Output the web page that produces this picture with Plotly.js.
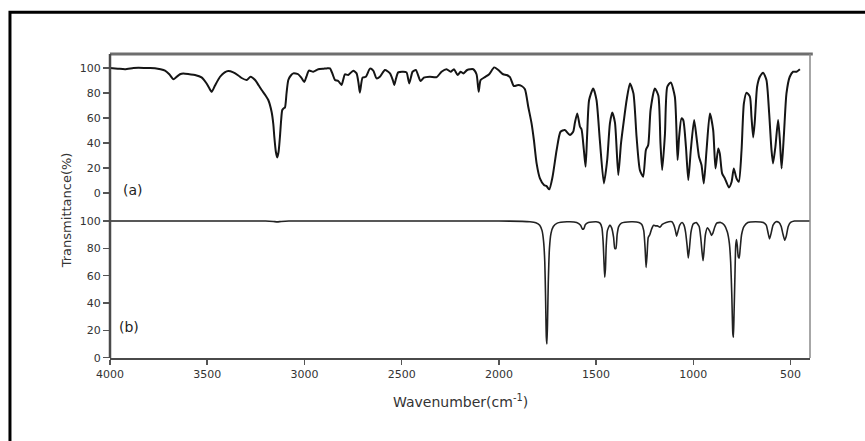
<!DOCTYPE html>
<html>
<head>
<meta charset="utf-8">
<script src="https://cdn.plot.ly/plotly-3.0.1.min.js"></script>
<style>html,body{margin:0;padding:0;background:#fff;}#chart{width:865px;height:441px;}</style>
</head>
<body>
<div id="chart"></div>
<script>
// Spectrum (a): wavenumber (cm-1) and transmittance (%)
const waveA = [4000,3960,3923,3880,3854,3800,3769,3740,3717,3695,3674,3657,3640,3623,3590,3563,3529,3505,3490,3477,3460,3434,3410,3392,3366,3340,3323,3297,3277,3254,3235,3220,3200,3186,3169,3160,3155,3147,3140,3133,3126,3120,3114,3105,3100,3092,3083,3070,3057,3032,3015,3001,2990,2977,2955,2929,2900,2886,2869,2855,2843,2826,2809,2800,2792,2775,2749,2732,2722,2715,2701,2684,2663,2646,2629,2612,2586,2560,2545,2538,2530,2518,2492,2475,2461,2444,2427,2403,2386,2355,2320,2295,2269,2248,2231,2212,2197,2183,2163,2132,2115,2104,2094,2072,2050,2024,2003,1978,1960,1943,1923,1901,1883,1866,1849,1832,1820,1806,1789,1768,1755,1741,1724,1703,1683,1661,1635,1618,1609,1597,1583,1575,1563,1554,1546,1536,1515,1498,1481,1460,1443,1429,1417,1403,1386,1372,1357,1343,1326,1308,1292,1275,1258,1244,1232,1220,1198,1180,1169,1160,1146,1134,1116,1095,1081,1073,1061,1052,1038,1026,1013,996,984,971,958,946,932,915,898,886,872,864,852,838,817,803,792,778,766,752,740,726,709,701,692,684,672,658,641,624,610,598,590,578,564,555,546,534,521,504,487,469,452];
const transA = [100,99.5,99,100,100.3,100,99.8,99,97.9,95,91,93,95,95.7,95,94.4,92.5,88,84,81,86,93,96.5,97.6,96.5,94,92,90.4,93,90.4,86,82.4,78,74.4,65,55,45,33,28.5,33,45,58,66.4,68,68.5,80,90.4,94,95.7,95,92,88.8,93,97.9,97,99,99.5,99.7,99.7,95,90.4,89.6,86.4,91,95,94.4,97.9,95.7,88,80.3,92.3,93,99.5,97.9,91.7,93,98.4,95.7,90,86.4,91,96.5,97,96.5,87.7,97,98.4,89.6,92.3,93,92.7,97,99,97,99,94.4,97,95.7,98.4,99,95,81,90.4,92.7,95,100.5,98.4,95,94.4,92.7,85.6,86.4,85.6,83,69,55.7,42.4,23.7,11.7,6.4,5.5,2.9,13,34.4,49,50.4,46.4,49,56.3,63.7,53,51,34.4,21,47,74.4,83.7,74.4,42.4,7.7,26.4,55.7,64.5,56.3,14.4,39.7,58.4,74.4,87.7,79.7,45,18.4,13,34.4,38.4,66.4,83.7,78,39.7,18.4,47,85,88.5,77,26.4,45,59.7,58.4,37,10.4,34.4,58.4,45,29,22.4,7.7,34.4,63.7,50.4,19.7,35.7,31.7,15.7,11.7,4.5,9,19.7,11.7,9,34.4,71.7,80.3,77,61,44.5,57,85,93,96.3,90.4,63.7,34.4,23.7,37,58.4,42.4,19.7,47,79.7,93,97,97,99];

// Spectrum (b)
const waveB = [4000,3500,3200,3160,3140,3120,3080,2500,2000,1880,1840,1810,1790,1778,1770,1764,1760,1756,1753,1750,1746,1740,1732,1720,1700,1650,1600,1580,1570,1563,1555,1540,1500,1480,1470,1464,1460,1456,1452,1448,1442,1430,1420,1410,1404,1398,1392,1384,1370,1320,1280,1265,1255,1248,1243,1238,1232,1224,1215,1205,1195,1185,1172,1160,1140,1110,1100,1092,1086,1080,1070,1058,1048,1040,1032,1026,1020,1012,1000,985,970,962,955,950,945,938,928,915,907,900,890,880,860,840,825,815,808,802,797,794,791,786,782,778,774,769,764,759,752,740,720,680,640,625,615,608,600,590,575,560,548,540,530,522,512,500,480,400];
const transB = [100,100,100,99.7,99.4,99.7,100,100,100,99.8,99.5,98.8,97,93,85,70,45,15,10,25,55,80,91,96,98.5,99.5,99,97,94,94.5,97.5,99,99.5,98.5,95,85,72,59,65,82,93,97,95,88,80,80,90,96,98.5,99.5,99,97.5,93,80,66,75,88,90,94,97,96.5,96.5,95.5,97.5,99,99.5,97,93,89,92,97,99,97,92,82,73,80,92,98,99,96,88,77,71,78,90,95,92.5,89.5,91,95.5,98.5,99,97,92,84,70,45,18,15,30,60,82,86.5,82,74,73,80,90,96,99,99.5,99,97,91,87,91,97,99.5,99,96,91,86,89,96,99,100,100];

const xTicks = [4000,3500,3000,2500,2000,1500,1000,500];
const yTicks = [0,20,40,60,80,100];

const FONT = 'DejaVu Sans, Arial, sans-serif';
const traces = [
  {x: waveA, y: transA, xaxis: 'x', yaxis: 'y', type: 'scatter', mode: 'lines',
   line: {color: '#151515', width: 2, shape: 'spline', smoothing: 0.6}, hoverinfo: 'skip'},
  {x: waveB, y: transB, xaxis: 'x', yaxis: 'y2', type: 'scatter', mode: 'lines',
   line: {color: '#222', width: 1.6, shape: 'spline', smoothing: 0.5}, hoverinfo: 'skip'}
];

const tickFont = {family: FONT, size: 11, color: '#333'};
const layout = {
  width: 865, height: 441,
  margin: {l: 110, r: 55, t: 54, b: 83},
  paper_bgcolor: '#fff', plot_bgcolor: '#fff',
  showlegend: false,
  xaxis: {range: [4000, 400], anchor: 'y2', tickvals: xTicks, ticktext: xTicks.map(String),
          ticks: 'outside', ticklen: 5, tickwidth: 1.5, tickcolor: '#555',
          showline: true, linecolor: '#4a4a4a', linewidth: 2, showgrid: false, zeroline: false,
          tickfont: tickFont},
  yaxis: {domain: [0.4967, 1], range: [-11.2, 111.2], anchor: 'x', tickvals: yTicks,
          ticks: 'outside', ticklen: 6, tickwidth: 1.5, tickcolor: '#555',
          showline: false, showgrid: false, zeroline: false, tickfont: tickFont},
  yaxis2: {domain: [0, 0.4967], range: [-0.2, 110.3], anchor: 'x', tickvals: yTicks,
          ticks: 'outside', ticklen: 6, tickwidth: 1.5, tickcolor: '#555',
          showline: false, showgrid: false, zeroline: false, tickfont: tickFont},
  shapes: [
    // outer figure frame
    {type: 'rect', xref: 'paper', yref: 'paper', x0: -0.1429, x1: 1.1, y0: -0.35, y1: 1.137,
     line: {color: '#000', width: 3}, fillcolor: 'rgba(0,0,0,0)'},
    // plot frame: top, right, left
    {type: 'line', xref: 'paper', yref: 'paper', x0: 0, x1: 1.004, y0: 1, y1: 1,
     line: {color: '#6e6e6e', width: 3}},
    {type: 'line', xref: 'paper', yref: 'paper', x0: 1, x1: 1, y0: 0, y1: 1,
     line: {color: '#8a8a8a', width: 1.5}},
    {type: 'line', xref: 'paper', yref: 'paper', x0: 0, x1: 0, y0: 0, y1: 1,
     line: {color: '#4a4a4a', width: 2.5}}
  ],
  annotations: [
    {text: '(a)', x: 3884, y: 2.4, xref: 'x', yref: 'y', showarrow: false,
     font: {family: FONT, size: 14, color: '#222'}},
    {text: '(b)', x: 3902, y: 22.5, xref: 'x', yref: 'y2', showarrow: false,
     font: {family: FONT, size: 14, color: '#222'}},
    {text: 'Wavenumber(cm<sup>-1</sup>)', xref: 'paper', yref: 'paper', x: 0.5, y: -0.1414,
     xanchor: 'center', yanchor: 'middle', showarrow: false,
     font: {family: FONT, size: 14, color: '#333'}},
    {text: 'Transmittance(%)', xref: 'paper', yref: 'paper', x: -0.061, y: 0.487,
     xanchor: 'center', yanchor: 'middle', textangle: -90, showarrow: false,
     font: {family: FONT, size: 13, color: '#333'}}
  ]
};

Plotly.newPlot('chart', traces, layout, {staticPlot: true, displayModeBar: false});
</script>
</body>
</html>
